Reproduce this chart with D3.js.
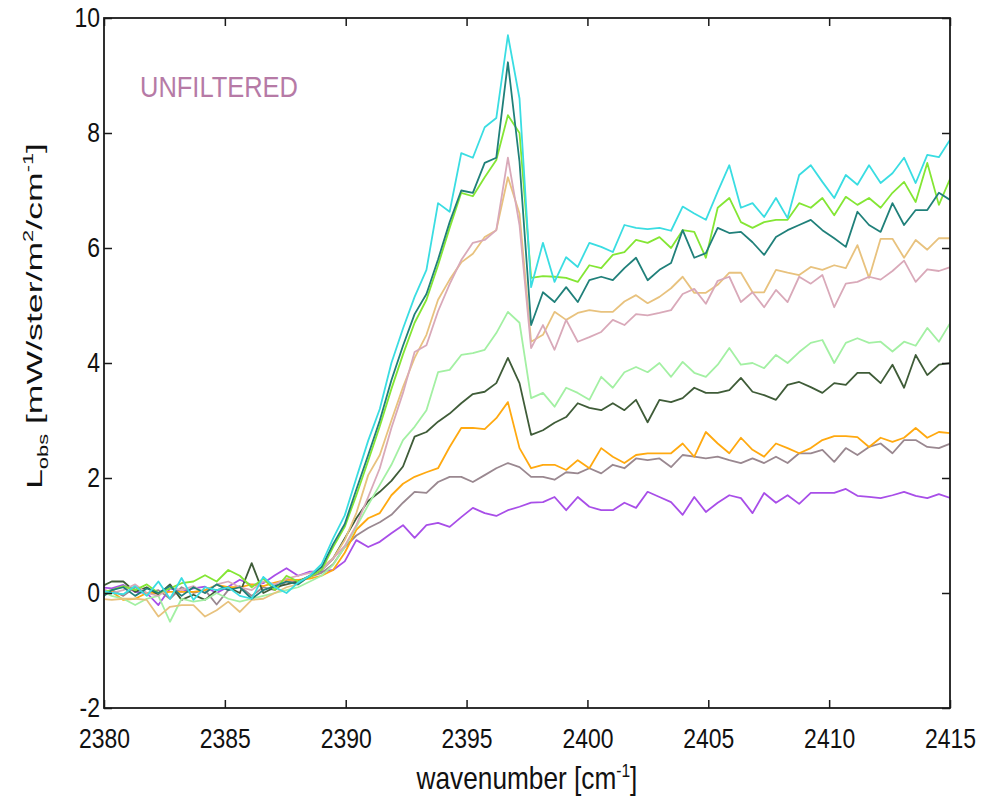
<!DOCTYPE html>
<html><head><meta charset="utf-8">
<script src="https://cdn.jsdelivr.net/npm/d3@7"></script>
<style>
html,body{margin:0;padding:0;background:#fff;}
text{font-family:"Liberation Sans",Arial,sans-serif;}
</style></head>
<body><svg id="chart" width="983" height="799"></svg>
<script>
const wavenumber = [2379.84,2380.32,2380.80,2381.29,2381.77,2382.25,2382.73,2383.21,2383.70,2384.18,
2384.66,2385.14,2385.62,2386.11,2386.59,2387.07,2387.55,2388.03,2388.52,2389.00,
2389.48,2389.96,2390.44,2390.93,2391.41,2391.89,2392.37,2392.85,2393.34,2393.82,
2394.30,2394.78,2395.26,2395.75,2396.23,2396.71,2397.19,2397.67,2398.16,2398.64,
2399.12,2399.60,2400.08,2400.57,2401.05,2401.53,2402.01,2402.49,2402.98,2403.46,
2403.94,2404.42,2404.90,2405.39,2405.87,2406.35,2406.83,2407.31,2407.80,2408.28,
2408.76,2409.24,2409.72,2410.21,2410.69,2411.17,2411.65,2412.13,2412.62,2413.10,
2413.58,2414.06,2414.54,2415.03];

const cyanSeries = [0.05,0.0,-0.02,0.12,-0.05,0.2,-0.1,0.26,-0.12,0.1,
0.05,0.1,-0.05,-0.1,0.28,0.1,0.0,0.18,0.3,0.5,
0.95,1.35,2.0,2.65,3.2,4.0,4.6,5.15,5.62,6.78,
6.63,7.65,7.57,8.1,8.26,9.7,8.6,5.32,6.09,5.41,
5.84,5.67,6.09,6.02,5.93,6.4,6.35,6.33,6.35,6.3,
6.72,6.6,6.49,6.98,7.44,6.7,6.78,6.54,6.87,6.52,
7.27,7.44,7.15,6.87,7.27,7.1,7.44,7.13,7.3,7.57,
7.13,7.62,7.58,7.9];

const tealSeries = [-0.1,0.05,0.1,-0.05,0.08,0.0,0.12,-0.05,0.1,0.0,
0.15,0.05,0.1,-0.1,0.05,0.12,0.2,0.15,0.3,0.45,
0.85,1.2,1.8,2.4,3.0,3.7,4.3,4.85,5.2,5.8,
6.45,7.0,6.96,7.48,7.57,9.23,7.5,4.66,5.23,5.06,
5.32,5.06,5.44,5.5,5.44,5.65,5.83,5.44,5.62,5.74,
6.31,5.83,5.91,6.35,6.26,6.28,6.1,5.88,6.19,6.31,
6.4,6.49,6.31,6.17,6.02,6.63,6.4,6.28,6.78,6.4,
6.66,6.66,6.96,6.83];

const limeSeries = [0.0,0.05,0.12,0.05,0.15,0.0,0.08,0.17,0.2,0.31,
0.2,0.4,0.3,0.1,0.25,0.05,0.3,0.2,0.28,0.4,
0.8,1.15,1.7,2.3,2.9,3.55,4.15,4.7,5.1,5.7,
6.35,6.96,6.9,7.23,7.53,8.31,8.0,5.48,5.51,5.5,
5.48,5.41,5.7,5.65,5.88,5.93,6.14,6.09,6.19,6.0,
6.31,6.28,5.83,6.7,6.87,6.45,6.35,6.45,6.49,6.49,
6.78,6.7,6.87,6.57,6.89,6.75,6.87,6.7,6.96,7.15,
6.8,7.48,6.75,7.23];

const pinkSeries = [0.1,0.0,0.05,0.15,0.0,-0.05,0.1,0.05,0.12,0.0,
0.15,0.2,0.1,0.05,0.2,0.15,0.25,0.3,0.35,0.4,
0.6,0.82,1.18,1.67,2.17,2.87,3.48,4.19,4.31,4.9,
5.37,5.79,6.09,6.14,6.31,7.57,6.4,4.26,4.66,4.23,
4.75,4.37,4.45,4.54,4.75,4.66,4.85,4.83,4.87,4.92,
5.2,5.29,5.03,5.43,5.5,5.06,5.23,4.97,5.27,5.06,
5.5,5.38,5.53,4.97,5.38,5.41,5.5,5.45,5.6,5.78,
5.41,5.63,5.6,5.67];

const tanSeries = [-0.1,-0.12,-0.1,-0.1,-0.12,-0.41,-0.24,-0.21,-0.21,-0.41,
-0.3,-0.15,-0.33,-0.12,-0.1,0.0,0.1,0.15,0.3,0.45,
0.6,0.92,1.39,2.05,2.4,3.0,3.58,4.09,4.49,5.1,
5.45,5.75,5.9,6.19,6.31,7.23,6.6,4.37,4.49,4.89,
4.75,4.87,4.92,4.89,4.89,5.07,5.18,5.04,5.15,5.3,
5.5,5.22,5.22,5.36,5.57,5.57,5.23,5.23,5.62,5.57,
5.53,5.67,5.62,5.7,5.65,6.05,5.48,6.16,6.16,5.83,
6.14,5.97,6.17,6.17];

const paleGreenSeries = [0.05,-0.05,-0.1,-0.21,-0.1,-0.05,-0.5,-0.1,-0.15,-0.12,
0.0,-0.1,-0.15,-0.1,-0.05,0.0,0.05,0.1,0.2,0.3,
0.49,0.8,1.15,1.53,1.88,2.23,2.66,2.89,3.18,3.84,
3.88,4.14,4.17,4.23,4.52,4.89,4.7,3.39,3.48,3.24,
3.57,3.48,3.36,3.76,3.57,3.84,3.93,3.84,4.0,3.76,
4.02,3.83,3.76,3.97,4.26,3.97,4.0,3.91,4.14,4.0,
4.19,4.35,4.4,4.0,4.35,4.43,4.35,4.37,4.2,4.37,
4.3,4.61,4.37,4.71];

const oliveSeries = [0.1,0.2,0.2,0.02,0.1,-0.03,0.15,-0.12,-0.03,-0.12,
0.05,0.1,0.0,0.52,0.0,0.1,0.15,0.2,0.3,0.4,
0.6,0.95,1.3,1.6,1.76,1.95,2.2,2.72,2.8,2.98,
3.12,3.3,3.46,3.5,3.65,4.09,3.65,2.75,2.83,2.96,
3.06,3.3,3.22,3.18,3.3,3.18,3.36,2.97,3.36,3.32,
3.39,3.57,3.48,3.48,3.53,3.74,3.5,3.44,3.36,3.62,
3.67,3.58,3.48,3.65,3.62,3.83,3.83,3.65,3.97,3.57,
4.14,3.79,3.97,4.0];

const orangeSeries = [0.05,0.02,-0.12,-0.1,0.0,0.0,0.02,0.02,0.02,0.05,
0.14,0.1,0.1,0.15,0.12,0.18,0.23,0.23,0.25,0.3,
0.4,0.7,1.1,1.3,1.39,1.7,1.9,2.02,2.1,2.17,
2.54,2.87,2.87,2.85,3.04,3.32,2.52,2.17,2.23,2.23,
2.14,2.31,2.17,2.52,2.37,2.26,2.4,2.43,2.43,2.43,
2.6,2.37,2.8,2.6,2.43,2.7,2.49,2.37,2.6,2.52,
2.43,2.52,2.66,2.73,2.73,2.71,2.54,2.7,2.63,2.7,
2.87,2.7,2.8,2.78];

const mauveSeries = [0.0,0.05,-0.05,0.1,0.0,0.05,-0.1,0.1,0.0,0.05,
-0.2,0.05,0.12,-0.05,0.1,0.05,0.2,0.2,0.28,0.35,
0.5,0.8,1.0,1.13,1.23,1.36,1.57,1.76,1.74,1.93,
2.02,2.02,1.93,2.05,2.17,2.26,2.19,2.02,2.02,1.97,
2.1,2.08,2.17,2.08,2.23,2.17,2.34,2.31,2.34,2.19,
2.4,2.37,2.34,2.37,2.31,2.26,2.34,2.26,2.37,2.26,
2.43,2.43,2.49,2.28,2.52,2.4,2.54,2.6,2.43,2.66,
2.66,2.54,2.52,2.6];

const purpleSeries = [0.1,0.08,0.14,0.02,0.0,-0.21,0.08,0.02,0.08,0.11,
0.0,0.11,0.23,0.14,0.17,0.31,0.43,0.3,0.37,0.37,
0.4,0.55,0.92,0.8,0.89,1.04,1.18,0.96,1.18,1.22,
1.15,1.32,1.48,1.39,1.34,1.44,1.5,1.57,1.58,1.67,
1.44,1.67,1.5,1.44,1.44,1.57,1.48,1.76,1.67,1.58,
1.36,1.67,1.41,1.57,1.7,1.65,1.39,1.74,1.57,1.7,
1.55,1.74,1.74,1.74,1.81,1.69,1.67,1.65,1.7,1.76,
1.69,1.65,1.72,1.65];

const seriesList = [
  {name:"purple", values:purpleSeries, color:"#a84ee8"},
  {name:"mauve", values:mauveSeries, color:"#9a8890"},
  {name:"orange", values:orangeSeries, color:"#ffa910"},
  {name:"olive", values:oliveSeries, color:"#3f5c38"},
  {name:"paleGreen", values:paleGreenSeries, color:"#a3f0a3"},
  {name:"tan", values:tanSeries, color:"#e8c27e"},
  {name:"pink", values:pinkSeries, color:"#d9a9b9"},
  {name:"lime", values:limeSeries, color:"#84e634"},
  {name:"teal", values:tealSeries, color:"#20807a"},
  {name:"cyan", values:cyanSeries, color:"#3adde2"}
];

const xTicks = [2380,2385,2390,2395,2400,2405,2410,2415];
const yTicks = [-2,0,2,4,6,8,10];

const svg = d3.select("#chart");
const pL=104, pR=950, pT=18, pB=708;
const sx = 0.82; // horizontal condensing of the glyphs
const x = d3.scaleLinear().domain([2380,2415]).range([pL,pR]);
const y = d3.scaleLinear().domain([-2,10]).range([pB,pT]);

svg.append("defs").append("clipPath").attr("id","clip")
  .append("rect").attr("x",pL).attr("y",pT).attr("width",pR-pL).attr("height",pB-pT);

const line = d3.line().x((d,i)=>x(wavenumber[i])).y(d=>y(d));
const g = svg.append("g").attr("clip-path","url(#clip)");
seriesList.forEach(s=>{
  g.append("path").datum(s.values).attr("d",line)
    .attr("fill","none").attr("stroke",s.color).attr("stroke-width",1.8)
    .attr("stroke-linejoin","round");
});

const axisColor="#1a1a1a";
function styleAxis(sel){
  sel.select(".domain").remove();
  sel.selectAll(".tick line").attr("stroke",axisColor).attr("stroke-width",1.5);
  sel.selectAll(".tick text").attr("fill","#111").attr("font-size","28px");
}
const fmt = d => String(d);
svg.append("g").attr("transform",`translate(0,${pB})`)
  .call(d3.axisBottom(x).tickValues(xTicks).tickFormat(fmt).tickSize(-8).tickPadding(20))
  .call(styleAxis)
  .selectAll(".tick text").attr("transform",`scale(${sx},1)`);
svg.append("g").attr("transform",`translate(0,${pT})`)
  .call(d3.axisTop(x).tickValues(xTicks).tickFormat("").tickSize(-8))
  .call(styleAxis);
svg.append("g").attr("transform",`translate(${pL},0)`)
  .call(d3.axisLeft(y).tickValues(yTicks).tickFormat(fmt).tickSize(-8).tickPadding(0))
  .call(styleAxis)
  .selectAll(".tick text").attr("x",0).attr("transform",`translate(-4,0) scale(${sx},1)`);
svg.append("g").attr("transform",`translate(${pR},0)`)
  .call(d3.axisRight(y).tickValues(yTicks).tickFormat("").tickSize(-8))
  .call(styleAxis);

svg.append("rect").attr("x",pL).attr("y",pT).attr("width",pR-pL).attr("height",pB-pT)
  .attr("fill","none").attr("stroke",axisColor).attr("stroke-width",1.8);

svg.append("text").attr("x",140).attr("y",97).attr("fill","#b67aa6")
  .attr("font-size","30px").attr("textLength",158).attr("lengthAdjust","spacingAndGlyphs")
  .text("UNFILTERED");

const xl = svg.append("text").attr("transform",`translate(${(pL+pR)/2},789) scale(0.82,1)`)
  .attr("text-anchor","middle").attr("font-size","32px").attr("fill","#111");
xl.append("tspan").text("wavenumber [cm");
xl.append("tspan").attr("dy",-12).attr("font-size","19px").text("-1");
xl.append("tspan").attr("dy",12).text("]");

const yl = svg.append("text").attr("transform","translate(42,316) scale(0.74,1.15) rotate(-90)")
  .attr("text-anchor","middle").attr("font-size","31px").attr("fill","#111");
yl.append("tspan").text("L");
yl.append("tspan").attr("dy",8).attr("font-size","19px").text("obs");
yl.append("tspan").attr("dy",-8).text(" [mW/ster/m");
yl.append("tspan").attr("dy",-12).attr("font-size","19px").text("2");
yl.append("tspan").attr("dy",12).text("/cm");
yl.append("tspan").attr("dy",-12).attr("font-size","19px").text("-1");
yl.append("tspan").attr("dy",12).text("]");
</script></body></html>
